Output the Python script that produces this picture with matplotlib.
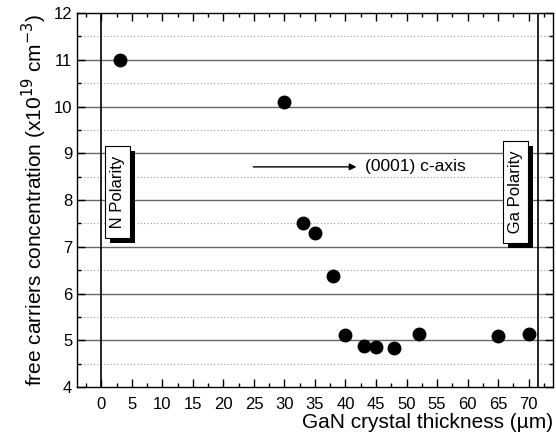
import matplotlib
matplotlib.use("Agg")
import matplotlib.pyplot as plt
import matplotlib.patheffects as pe
from matplotlib.ticker import MultipleLocator

plt.rcParams['font.family'] = ['Liberation Sans', 'DejaVu Sans']

# data
thickness = [3, 30, 33, 35, 38, 40, 43, 45, 48, 52, 65, 70]
carriers = [11.0, 10.1, 7.5, 7.3, 6.38, 5.12, 4.87, 4.86, 4.84, 5.13, 5.1, 5.13]
xticks = list(range(0, 75, 5))

fig = plt.figure(figsize=(5.56, 4.34), dpi=100)
ax = fig.add_axes([0.1385, 0.108, 0.856, 0.862])

# grid
for y in range(5, 12):
    ax.axhline(y, color='#666666', lw=1, zorder=1)
for y in [4.5, 5.5, 6.5, 7.5, 8.5, 9.5, 10.5, 11.5]:
    ax.axhline(y, color='#999999', lw=0.8, ls=(0, (1, 2)), zorder=1)

# polarity boundaries
ax.axvline(0, color='black', lw=1.2, zorder=2)
ax.axvline(71.6, color='black', lw=1.2, zorder=2)

ax.plot(thickness, carriers, 'o', color='black', ms=9, zorder=4)

# c-axis arrow
ax.annotate('', xy=(41.8, 8.71), xytext=(24.9, 8.71),
            arrowprops=dict(arrowstyle='-|>', color='black', lw=1, mutation_scale=10,
                            shrinkA=0, shrinkB=0))
ax.text(43.2, 8.71, '(0001) c-axis', fontsize=12.5, va='center', ha='left')

# labels in boxes with a hard shadow
for xc, label in [(2.6, ' N Polarity '), (67.9, ' Ga Polarity ')]:
    t = ax.text(xc, 8.17, label, rotation=90, fontsize=12, ha='center', va='center',
                zorder=6, bbox=dict(boxstyle='square,pad=0.3', fc='white', ec='black', lw=0.8))
    t.get_bbox_patch().set_path_effects([
        pe.SimplePatchShadow(offset=(3.5, -3.5), shadow_rgbFace='black', alpha=1),
        pe.Normal()])

ax.set_xlim(-4, 74)
ax.set_ylim(4, 12)
ax.set_xticks(xticks)
ax.xaxis.set_minor_locator(MultipleLocator(2.5))
ax.yaxis.set_major_locator(MultipleLocator(1))
ax.yaxis.set_minor_locator(MultipleLocator(0.5))
ax.tick_params(which='both', direction='in', top=True, right=True, labelsize=12, width=1)
ax.tick_params(axis='x', which='major', pad=7)
ax.tick_params(which='major', length=6)
ax.tick_params(which='minor', length=3)
for s in ax.spines.values():
    s.set_linewidth(1)

ax.set_xlabel('GaN crystal thickness (\u00b5m)', fontsize=15, loc='right', labelpad=1)
ax.set_ylabel('free carriers concentration (x10$^{19}$ cm$^{-3}$)', fontsize=15, labelpad=3)

fig.savefig('out.png', dpi=100)
